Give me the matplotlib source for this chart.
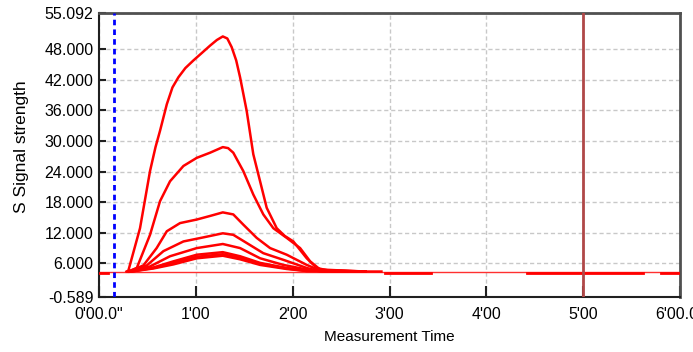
import matplotlib
matplotlib.use('Agg')
import matplotlib.pyplot as plt

# signal curves (time in seconds, value)
t1 = [17, 18.2, 25.4, 31.6, 35.0, 37.8, 42.0, 45.5, 49.2, 53.5, 58.5, 63.5, 68.8, 73.0, 76.7, 79.5, 82.2, 85.0, 87.4, 91.5, 95.6, 99.8, 103.9, 110.1, 115.0, 120.4, 128.7, 134.9, 145, 175]
v1 = [4.4, 4.6, 12.9, 24.1, 28.8, 32.0, 37.2, 40.5, 42.5, 44.3, 45.8, 47.2, 48.7, 49.8, 50.5, 50.1, 48.4, 45.8, 42.5, 35.9, 27.4, 22.1, 16.9, 12.9, 11.4, 10.3, 7.0, 5.1, 4.4, 4.4]
t2 = [18, 23.4, 31.6, 37.8, 44.0, 52.3, 60.6, 68.8, 76.7, 80.0, 83.2, 89.4, 95.6, 101.8, 108.0, 116.3, 124.6, 130.8, 137.0, 165]
v2 = [4.4, 5.1, 11.6, 18.2, 22.1, 25.1, 26.7, 27.7, 28.8, 28.6, 27.7, 24.1, 19.5, 15.6, 12.9, 11.0, 9.0, 6.4, 4.8, 4.4]
t3 = [18.5, 27.5, 35.7, 42.0, 50.2, 60.6, 68.8, 76.7, 83.2, 89.4, 97.7, 106.0, 116.3, 128.7, 137, 165]
v3 = [4.4, 5.6, 9.0, 12.3, 13.9, 14.6, 15.3, 16.0, 15.6, 13.6, 11.0, 9.0, 7.7, 5.7, 4.6, 4.4]
t4 = [19, 29.6, 39.9, 52.3, 64.7, 76.7, 83.2, 91.5, 101.8, 114.2, 128.7, 137, 165]
v4 = [4.4, 5.6, 8.4, 10.3, 11.1, 11.9, 11.6, 10.0, 8.0, 6.7, 5.1, 4.4, 4.4]
t5 = [19.5, 31.6, 44.0, 60.6, 76.7, 87.4, 99.8, 114.2, 128.7, 165]
v5 = [4.4, 5.4, 7.4, 9.0, 9.8, 9.0, 7.0, 5.7, 4.8, 4.4]
t6 = [20, 33.7, 46.1, 60.6, 76.7, 87.4, 99.8, 116.3, 128.7, 165]
v6 = [4.4, 5.2, 6.4, 7.7, 8.2, 7.4, 6.1, 5.1, 4.6, 4.4]
v7 = [4.4, 5.1, 6.1, 7.3, 7.8, 7.1, 5.9, 5.0, 4.5, 4.4]
v8 = [4.4, 5.0, 5.8, 7.0, 7.5, 6.8, 5.7, 4.9, 4.5, 4.4]

curves = [(t1, v1), (t2, v2), (t3, v3), (t4, v4), (t5, v5), (t6, v6), (t6, v7), (t6, v8)]

# baseline and flat noisy segments (start, end, level)
baseline = 4.3
flat_segments = [(0, 5.6, 4.2), (177, 206, 4.1), (265, 337, 4.1), (348, 360, 4.1)]

x_ticks = [0, 60, 120, 180, 240, 300, 360]
x_labels = ["0'00.0\"", "1'00", "2'00", "3'00", "4'00", "5'00", "6'00.0\""]
y_ticks = [-0.589, 6, 12, 18, 24, 30, 36, 42, 48, 55.092]
y_labels = ['-0.589', '6.000', '12.000', '18.000', '24.000', '30.000', '36.000', '42.000', '48.000', '55.092']

start_marker = 9.5
end_marker = 300

narrow = ['Liberation Sans Narrow', 'Liberation Sans', 'DejaVu Sans']
regular = ['Liberation Sans', 'DejaVu Sans']

fig = plt.figure(figsize=(6.93, 3.52), dpi=100)
ax = fig.add_axes([0.1429, 0.1563, 0.8383, 0.8067])

ax.axhline(baseline, color='#FF3030', lw=1.0, zorder=2)
for s, e, lvl in flat_segments:
    ax.plot([s, e], [lvl, lvl], color='#FF0000', lw=2.0, zorder=3)
for t, v in curves:
    ax.plot(t, v, color='#FF0000', lw=1.8, zorder=3)

ax.axvline(start_marker, color='#0000FF', lw=2, dashes=(2, 1.5), zorder=4)
ax.axvline(end_marker, color='#B04848', lw=2, zorder=4)

ax.set_xlim(0, 360)
ax.set_ylim(-0.589, 55.092)
ax.set_xticks(x_ticks)
ax.set_xticklabels(x_labels, family=narrow, fontsize=11.5)
ax.set_yticks(y_ticks)
ax.set_yticklabels(y_labels, family=narrow, fontsize=11.5)
ax.tick_params(axis='x', direction='in', length=8, width=1.5, pad=7, color='#202020')
ax.tick_params(axis='y', direction='in', length=5, width=1.5, pad=4, color='#202020')

ax.grid(True, color='#C8C8C8', lw=1, dashes=(3, 2))
ax.set_axisbelow(True)

for side in ['left', 'bottom']:
    ax.spines[side].set_color('#202020')
    ax.spines[side].set_linewidth(1.5)
for side in ['top', 'right']:
    ax.spines[side].set_color('#505050')
    ax.spines[side].set_linewidth(2)

ax.set_xlabel('Measurement Time', family=regular, fontsize=11)
ax.set_ylabel('S Signal strength', family=regular, fontsize=12.5)
ax.xaxis.set_label_coords(0.5, -0.115)
ax.yaxis.set_label_coords(-0.12, 0.53)

fig.savefig('out.png', dpi=100)
